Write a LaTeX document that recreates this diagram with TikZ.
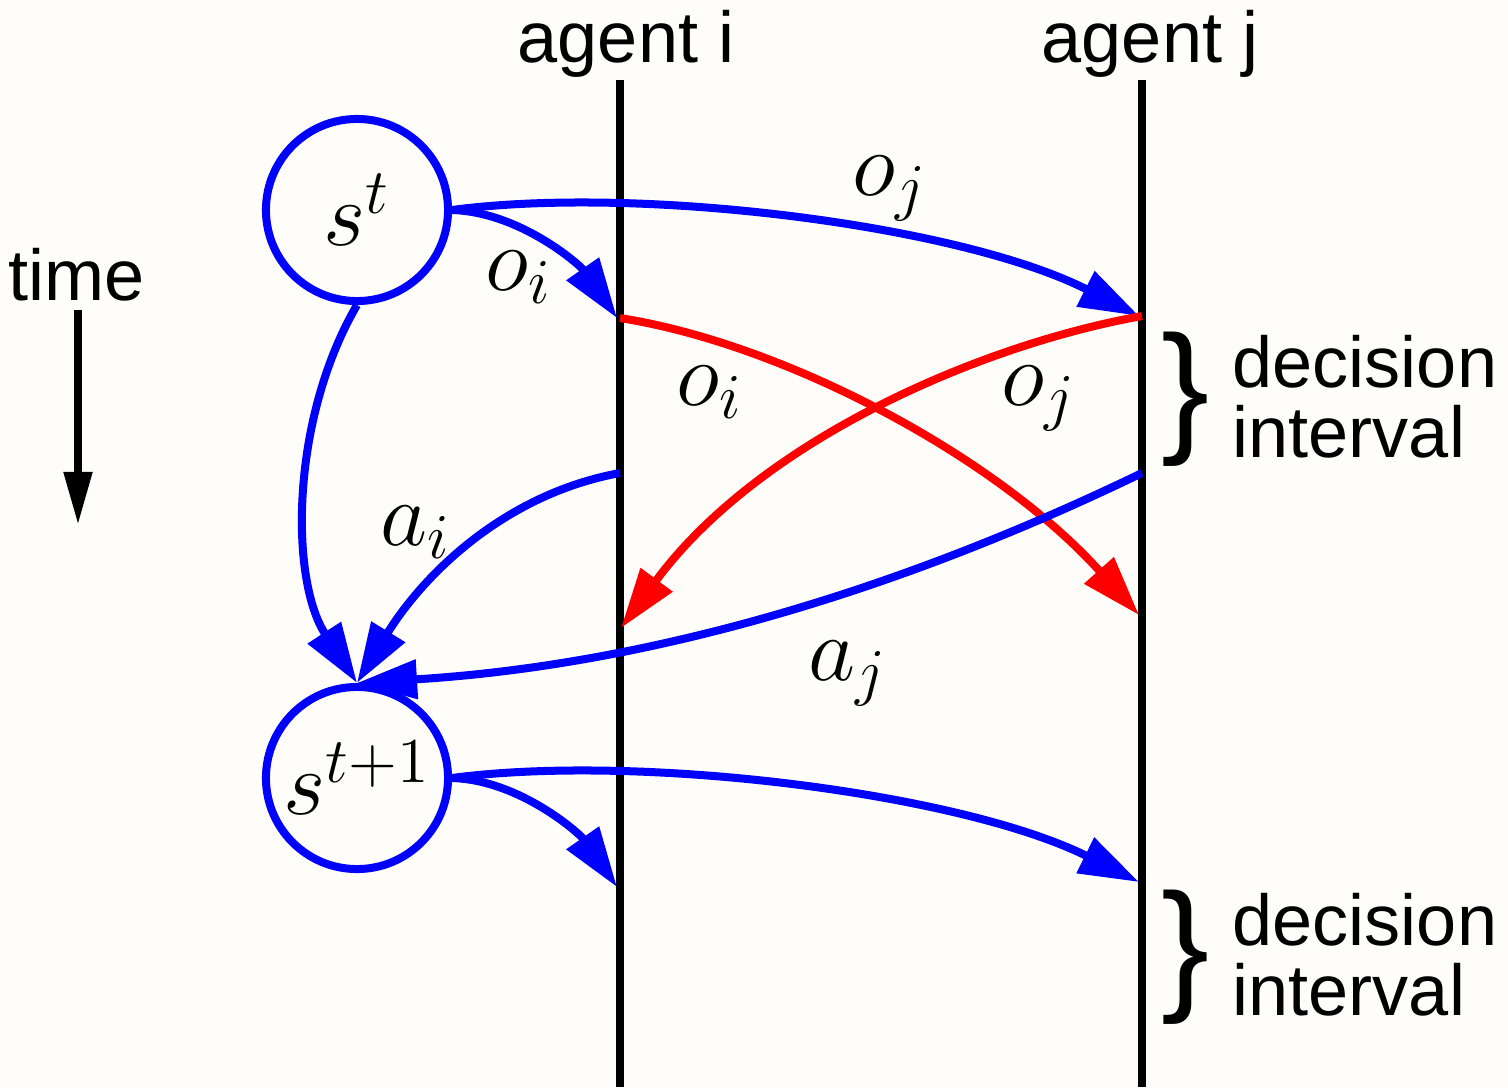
\documentclass[tikz,border=0pt]{standalone}
\usepackage{fontspec}
\setsansfont{Liberation Sans}
\DeclareFontShape{OML}{cmm}{m}{it}{<->cmmi12}{}
\DeclareFontShape{OT1}{cmr}{m}{n}{<->cmr12}{}
\usetikzlibrary{arrows.meta}
\definecolor{bg}{HTML}{FEFDFA}
\definecolor{myblue}{HTML}{0000FF}
\definecolor{myred}{HTML}{FF0000}
\begin{document}
\begin{tikzpicture}[x=0.01cm,y=-0.01cm,
  lane/.style={line width=0.08cm, black},
  flow/.style={line width=0.08cm, -{Triangle[length=0.6cm,width=0.38cm]}},
  bflow/.style={flow, myblue},
  rflow/.style={flow, myred},
  timearrow/.style={line width=0.08cm, black, -{Triangle[length=0.53cm,width=0.27cm]}},
  state/.style={circle, draw=myblue, line width=0.08cm, minimum size=1.82cm, inner sep=0pt, font=\fontsize{26}{30}\selectfont},
  lbl/.style={inner sep=0pt, font=\fontsize{26}{30}\selectfont},
  sans/.style={inner sep=0pt, font=\sffamily\fontsize{20.5}{25}\selectfont},
  interval/.style={inner sep=0pt, align=left, font=\sffamily\fontsize{20.5}{19.9}\selectfont},
  bracebox/.style={inner sep=0pt, font=\sffamily\fontsize{41}{41}\selectfont},
]
\fill[bg] (0,0) rectangle (1508,1087);
\useasboundingbox (0,0) rectangle (1508,1087);

% agents
\node[sans, anchor=base] (ai) at (626,62) {agent i};
\node[sans, anchor=base] (aj) at (1150,62) {agent j};
\coordinate (itop) at (620,80);
\coordinate (ibot) at (620,1087);
\coordinate (jtop) at (1142,80);
\coordinate (jbot) at (1142,1087);
\draw[lane] (itop) -- (ibot);
\draw[lane] (jtop) -- (jbot);

% points on lanes
\coordinate (i1) at (617,318);
\coordinate (i1s) at (620,318);
\coordinate (i2) at (620,473);
\coordinate (i3) at (621,628);
\coordinate (i4) at (617,887);
\coordinate (j1) at (1139,316);
\coordinate (j1s) at (1142,316);
\coordinate (j2) at (1142,473);
\coordinate (j3) at (1139,615);
\coordinate (j4) at (1139,882);

% states
\node[state] (st) at (357,210) {$s^t$};
\node[state] (st1) at (357,778) {$s^{t+1}$};

% time
\node[sans, anchor=base west] (time) at (8,300) {time};
\coordinate (tA) at (78,310);
\coordinate (tB) at (78,525);
\draw[timearrow] (tA) -- (tB);

% observations at t
\draw[bflow] (st.east) .. controls (640,185) and (960,225) .. (j1);
\draw[bflow] (st.east) .. controls (520,212) and (580,265) .. (i1);

% messages (red)
\draw[rflow] (i1s) .. controls (790,345) and (1000,460) .. (j3);
\draw[rflow] (j1s) .. controls (980,345) and (760,440) .. (i3);

% actions
\draw[bflow] (i2) .. controls (500,495) and (420,580) .. (st1.north);
\draw[bflow] (j2) .. controls (900,590) and (650,665) .. (st1.north);
\draw[bflow] (st.south) .. controls (290,420) and (290,580) .. (st1.north);

% observations at t+1
\draw[bflow] (st1.east) .. controls (640,753) and (960,793) .. (j4);
\draw[bflow] (st1.east) .. controls (520,780) and (580,834) .. (i4);

% labels
\node[lbl, anchor=base west] (loj) at (852,195) {$o_j$};
\node[lbl, anchor=base west] (loi) at (485,290) {$o_i$};
\node[lbl, anchor=base west] (roi) at (676,405) {$o_i$};
\node[lbl, anchor=base west] (roj) at (1001,405) {$o_j$};
\node[lbl, anchor=base west] (lai) at (380,545) {$a_i$};
\node[lbl, anchor=base west] (laj) at (808,680) {$a_j$};

% decision intervals
\node[bracebox] (br1) at (1186,399) {\}};
\node[interval, anchor=base west] (d1) at (1232,457) {decision\\interval};
\node[bracebox] (br2) at (1186,957) {\}};
\node[interval, anchor=base west] (d2) at (1232,1015) {decision\\interval};
\end{tikzpicture}
\end{document}
